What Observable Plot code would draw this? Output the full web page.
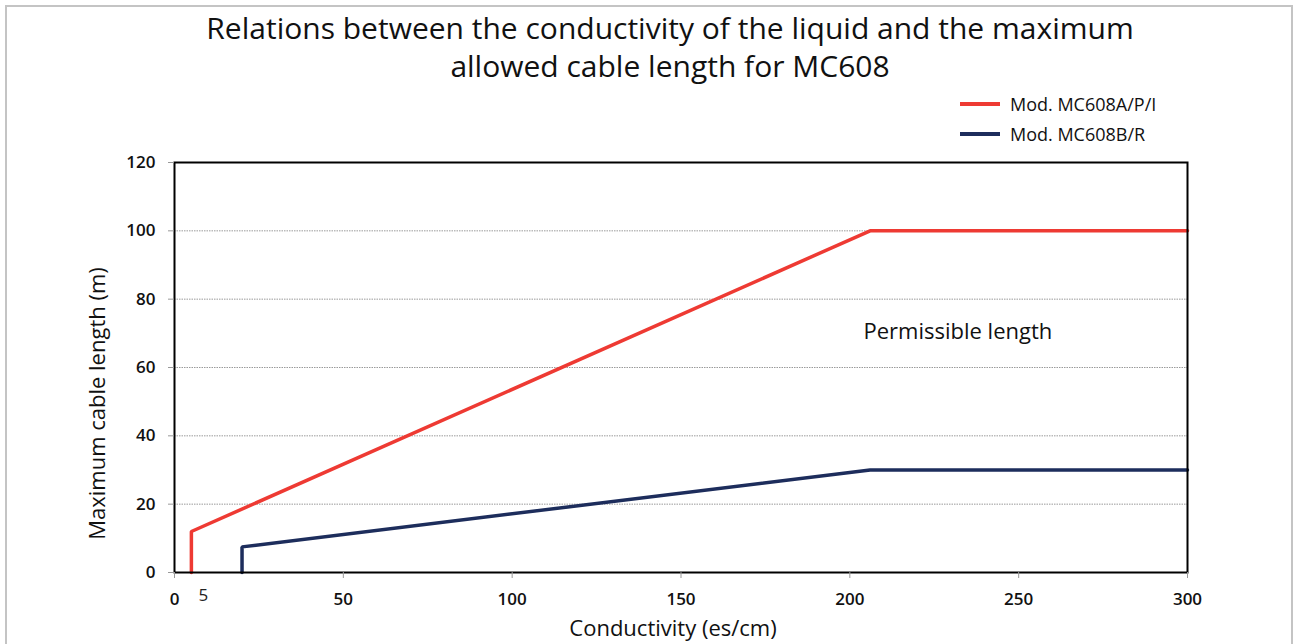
<!DOCTYPE html>
<html>
<head>
<meta charset="utf-8">
<script src="https://cdn.jsdelivr.net/npm/d3@7"></script>
<script src="https://cdn.jsdelivr.net/npm/@observablehq/plot@0.6"></script>
<style>
  body { margin:0; background:#fff; font-family:"Open Sans", sans-serif; }
  #wrap { position:relative; width:1298px; height:644px; overflow:hidden; }
  #border { position:absolute; left:5px; top:5px; width:1288px; height:660px; border:2px solid #c4c4c4; box-sizing:border-box; }
  #title { position:absolute; left:0; width:1340px; top:9px; text-align:center; font-size:30px; line-height:38px; color:#111; }
  #legend { position:absolute; left:960px; top:89px; font-size:18px; color:#111; }
  .lg { display:flex; align-items:center; height:30px; }
  .sw { width:40px; height:4px; margin-right:10px; }
  #chart { position:absolute; left:0; top:150px; }
</style>
</head>
<body>
<div id="wrap">
  <div id="border"></div>
  <div id="title">Relations between the conductivity of the liquid and the maximum<br>allowed cable length for MC608</div>
  <div id="legend"></div>
  <div id="chart"></div>
</div>
<script>
const seriesNames = ["Mod. MC608A/P/I", "Mod. MC608B/R"];
const seriesColors = ["#ee3a33", "#1d2d5c"];
const conductivityA = [5, 5, 206, 300];
const lengthA = [0, 12, 100, 100];
const conductivityB = [20, 20, 206, 300];
const lengthB = [0, 7.5, 30, 30];
const xTicks = [0, 50, 100, 150, 200, 250, 300];
const yTicks = [0, 20, 40, 60, 80, 100, 120];
const gridValues = [20, 40, 60, 80, 100];

const dataA = conductivityA.map((c, i) => ({x: c, y: lengthA[i]}));
const dataB = conductivityB.map((c, i) => ({x: c, y: lengthB[i]}));

const legend = document.getElementById("legend");
seriesNames.forEach((n, i) => {
  const row = document.createElement("div");
  row.className = "lg";
  row.innerHTML = `<div class="sw" style="background:${seriesColors[i]}"></div><span>${n}</span>`;
  legend.appendChild(row);
});

const chart = Plot.plot({
  width: 1298,
  height: 494,
  marginLeft: 174,
  marginRight: 111,
  marginTop: 12,
  marginBottom: 72,
  style: {fontFamily: "Open Sans, sans-serif", color: "#111", background: "transparent"},
  x: {domain: [0, 300]},
  y: {domain: [0, 120]},
  marks: [
    Plot.ruleY(gridValues, {stroke: "#9a9a9a", strokeDasharray: "1.5,1", strokeWidth: 1}),
    Plot.line(dataA, {x: "x", y: "y", stroke: seriesColors[0], strokeWidth: 3.5, strokeLinejoin: "miter"}),
    Plot.line(dataB, {x: "x", y: "y", stroke: seriesColors[1], strokeWidth: 3.5, strokeLinejoin: "miter"}),
    Plot.frame({stroke: "#000", strokeWidth: 2}),
    Plot.axisX({ticks: xTicks, tickSize: 6, tickPadding: 14, stroke: "#999", fill: "#111", fontSize: 17, fontWeight: 600, label: null}),
    Plot.axisY({ticks: yTicks, tickSize: 6, tickPadding: 13, stroke: "#999", fill: "#111", fontSize: 17, fontWeight: 600, label: null}),
    Plot.text(["5"], {x: 5, y: 0, dx: 12, dy: 23, fontSize: 17, fill: "#222"}),
    Plot.text(["Permissible length"], {x: 232, y: 70.5, fontSize: 22, fill: "#111"}),
    Plot.text(["Conductivity (es/cm)"], {frameAnchor: "bottom", dx: -8, dy: 63, fontSize: 22, fill: "#111"}),
    Plot.text(["Maximum cable length (m)"], {frameAnchor: "left", textAnchor: "middle", dx: -77, dy: 36, rotate: -90, fontSize: 22, fill: "#111"})
  ]
});
document.getElementById("chart").appendChild(chart);
</script>
</body>
</html>
